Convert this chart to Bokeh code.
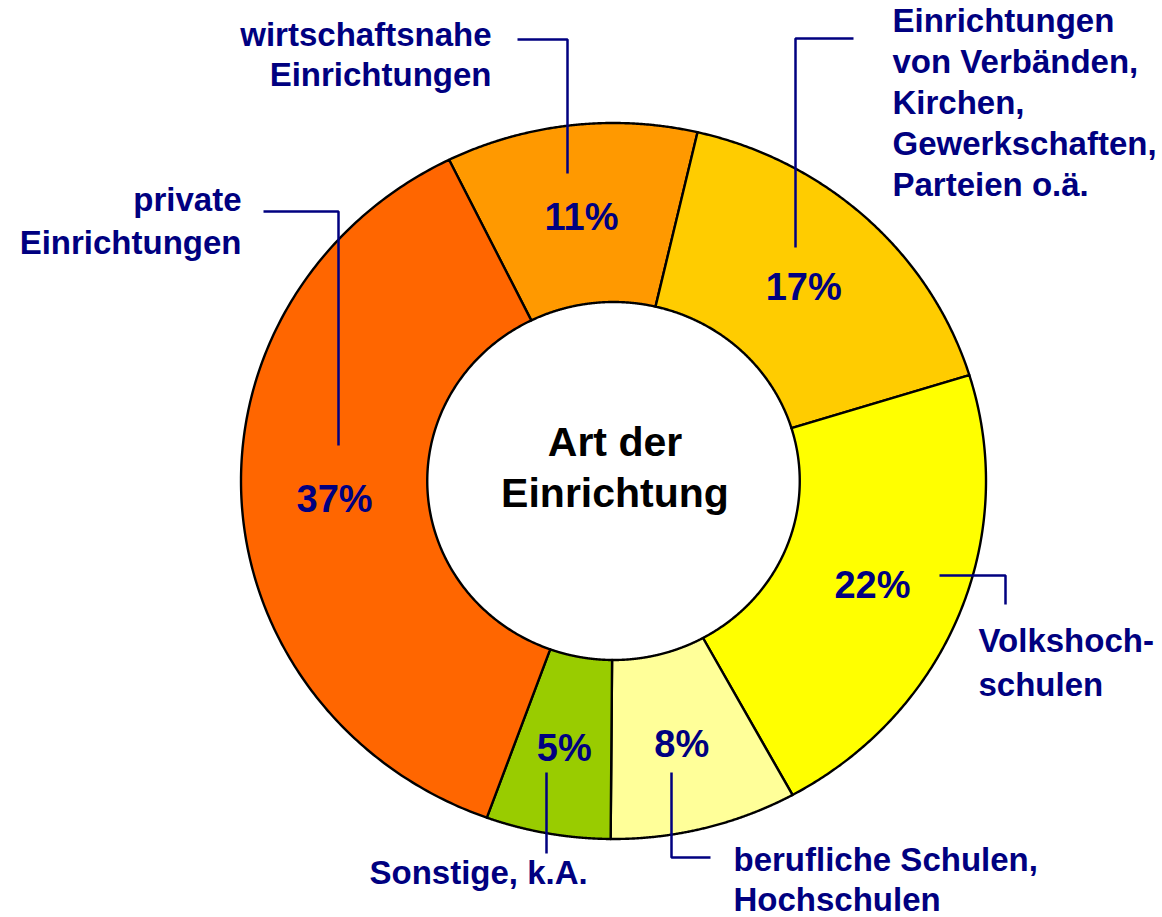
import numpy as np
from bokeh.plotting import figure
from bokeh.models import Range1d
from bokeh.core.properties import value
from bokeh.embed import file_html
from bokeh.resources import INLINE

# ---------------- data ----------------
categories = [
    "wirtschaftsnahe Einrichtungen",
    "Einrichtungen von Verbänden, Kirchen, Gewerkschaften, Parteien o.ä.",
    "Volkshochschulen",
    "berufliche Schulen, Hochschulen",
    "Sonstige, k.A.",
    "private Einrichtungen",
]
shares = [10.9, 16.6, 21.8, 8.1, 5.4, 37.2]
pct_labels = ["11%", "17%", "22%", "8%", "5%", "37%"]
label_lines = [
    ["wirtschaftsnahe", "Einrichtungen"],
    ["Einrichtungen", "von Verbänden,", "Kirchen,", "Gewerkschaften,", "Parteien o.ä."],
    ["Volkshoch-", "schulen"],
    ["berufliche Schulen,", "Hochschulen"],
    ["Sonstige, k.A."],
    ["private", "Einrichtungen"],
]
center_title = ["Art der", "Einrichtung"]

# ---------------- style / layout ----------------
colors = ["#FF9900", "#FFCC00", "#FFFF00", "#FFFF99", "#99CC00", "#FF6600"]
NAVY = "#000080"
FONT = value("Liberation Sans")
CX, CY = 613.0, 480.5          # centre (page pixels)
RX, RY = 372.5, 358.0          # outer radii
HOLE = 0.5                     # inner radius ratio
START_DEG = -26.2              # clockwise from 12 o'clock
LABEL_R = 0.75
BASE_SHIFT = 0.38              # compensation of rendered baseline (em)
LABEL_FS = 33
TITLE_FS = 41

# label anchor: (x, first baseline, align, line spacing)
label_pos = [
    (491, 47, "right", 40),
    (892, 33, "left", 40.8),
    (978, 653, "left", 44),
    (733, 872, "left", 40),
    (369, 885, "left", 40),
    (241, 212, "right", 43),
]
# leader polylines
leaders = [
    ([517, 567, 567], [39, 39, 173]),
    ([853, 795, 795], [38, 38, 247]),
    ([939, 1005, 1005], [575, 575, 604]),
    ([671, 671, 710], [772, 857, 857]),
    ([546, 546], [772, 853]),
    ([263, 338, 338], [211, 211, 445]),
]

W, H = 1162, 917
p = figure(width=W, height=H,
           x_range=Range1d(0, W), y_range=Range1d(H, 0),
           x_axis_type=None, y_axis_type=None,
           output_backend="svg", toolbar_location=None, min_border=0)
p.grid.visible = False
p.outline_line_color = None
p.background_fill_color = "white"
p.border_fill_color = "white"

total = float(sum(shares))
cum = np.concatenate([[0.0], np.cumsum(shares)]) / total * 360.0 + START_DEG

xs, ys, mids = [], [], []
for i in range(len(shares)):
    a0, a1 = np.radians(cum[i]), np.radians(cum[i + 1])
    t = np.linspace(a0, a1, 200)
    ox = CX + RX * np.sin(t)
    oy = CY - RY * np.cos(t)
    ix = CX + RX * HOLE * np.sin(t[::-1])
    iy = CY - RY * HOLE * np.cos(t[::-1])
    xs.append(list(np.concatenate([ox, ix])))
    ys.append(list(np.concatenate([oy, iy])))
    mids.append((a0 + a1) / 2)

p.patches(xs, ys, fill_color=colors, line_color="black", line_width=2.4,
          line_join="round")

# percentage labels
mids = np.array(mids)
px = CX + RX * LABEL_R * np.sin(mids)
py = CY - RY * LABEL_R * np.cos(mids) + 3
p.text(x=list(px), y=list(py), text=pct_labels, text_font=FONT,
       text_font_style="bold", text_font_size="38px", text_color=NAVY,
       text_align="center", text_baseline="middle")

# centre title
p.text(x=[CX + 1.5, CX + 1.5],
       y=[457.5 - BASE_SHIFT * TITLE_FS, 508 - BASE_SHIFT * TITLE_FS],
       text=center_title, text_font=FONT,
       text_font_style="bold", text_font_size=f"{TITLE_FS}px", text_color="black",
       text_align="center", text_baseline="alphabetic")

# leader lines
for lx, ly in leaders:
    p.line(lx, ly, line_color=NAVY, line_width=2.5)

# category labels
for lines, (x0, y0, align, dy) in zip(label_lines, label_pos):
    p.text(x=[x0] * len(lines),
           y=[y0 + k * dy - BASE_SHIFT * LABEL_FS for k in range(len(lines))],
           text=lines, text_font=FONT, text_font_style="bold",
           text_font_size=f"{LABEL_FS}px", text_color=NAVY,
           text_align=align, text_baseline="alphabetic")

open("out.html", "w").write(file_html(p, INLINE))
